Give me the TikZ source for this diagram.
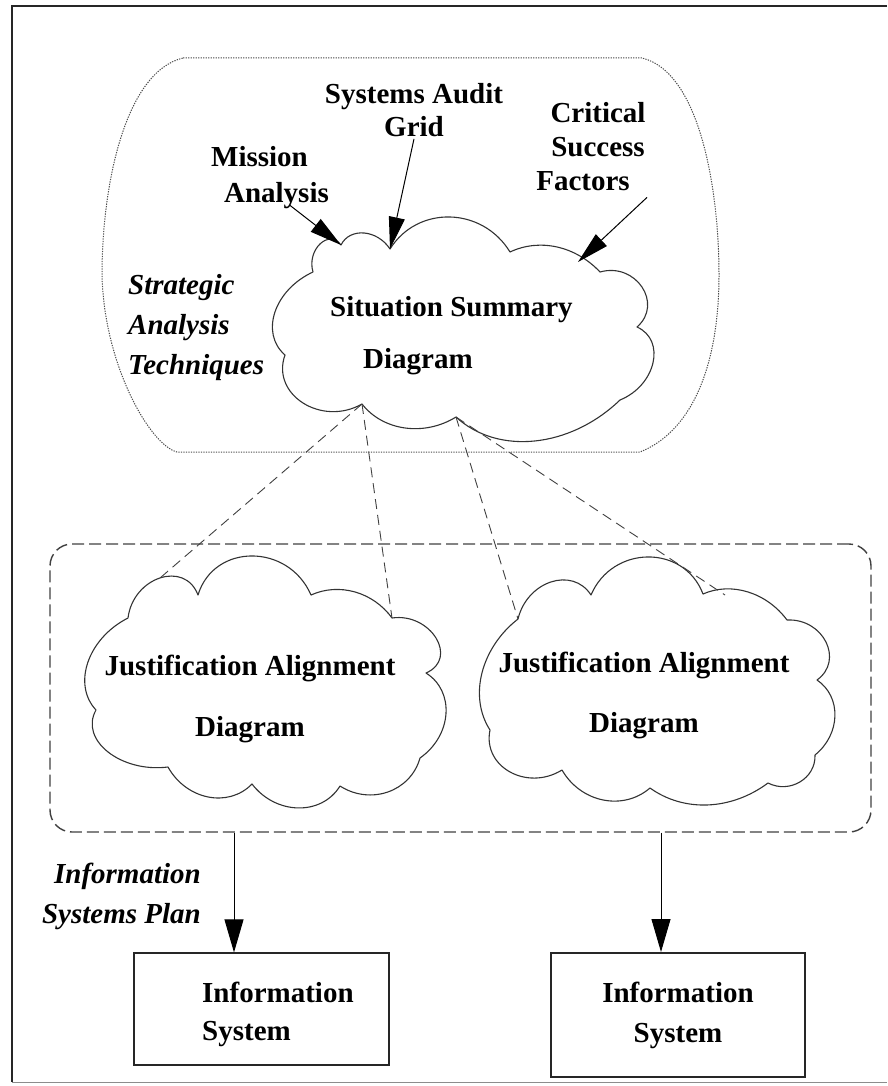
\documentclass[tikz,border=0pt]{standalone}
\usepackage{fontspec}
\setmainfont{Liberation Serif}
\usetikzlibrary{arrows.meta,calc}
\def\cloudbump#1#2#3#4{.. controls ($(#2)!#1!(#4)+1.3333*(#3)-0.6667*(#2)-0.6667*(#4)$) and ($(#4)!#1!(#2)+1.3333*(#3)-0.6667*(#2)-0.6667*(#4)$) .. (#4)}
\tikzset{
  txt/.style={font=\bfseries\fontsize{29}{34}\selectfont, inner sep=2pt, align=center, text=black},
  itx/.style={font=\bfseries\itshape\fontsize{29}{34}\selectfont, inner sep=2pt, text=black},
  cloudline/.style={draw=black!80, line width=1.1pt, line join=round},
  arr/.style={draw=black, line width=1pt, -{Triangle[length=32pt,width=16pt]}},
  arrb/.style={draw=black, line width=1pt, -{Triangle[length=33pt,width=19pt]}},
  conn/.style={draw=black!75, line width=0.9pt, dash pattern=on 10pt off 6pt},
  planbox/.style={draw=black!75, line width=1.4pt, dash pattern=on 12pt off 5pt, rounded corners=22pt},
  satregion/.style={draw=black!70, line width=1pt, dash pattern=on 1.3pt off 1.2pt},
  isbox/.style={draw=black!85, line width=1.2pt},
  framelines/.style={draw=black!85, line width=2pt}
}
\begin{document}
\begin{tikzpicture}[x=1pt,y=-1pt]
\useasboundingbox (0,0) rectangle (887,1086);
% outer frame
\draw[framelines] (887,6.5) -- (12,6.5) -- (12,1082);
\draw[draw=black!45, line width=1pt] (12,1082) -- (887,1082);

% strategic analysis region (dotted)
\draw[satregion] (183,58) -- (642,58) .. controls (700,72) and (719,190) .. (719,275)
  .. controls (719,360) and (695,430) .. (640,452) -- (177,452)
  .. controls (150,445) and (104,365) .. (102,275)
  .. controls (102,185) and (125,72) .. (183,58) -- cycle;

% situation summary cloud
\coordinate (s1) at (341,245);
\coordinate (s2) at (390,249);
\coordinate (s3) at (510,252);
\coordinate (s4) at (600,272);
\coordinate (s5) at (637,327);
\coordinate (s6) at (620,400);
\coordinate (s7) at (456,417);
\coordinate (s8) at (362,404);
\coordinate (s9) at (285,355);
\coordinate (s10) at (313,272);
\coordinate (csfend) at (578,262);
\draw[cloudline] (s1) \cloudbump{0.22}{s1}{364,233}{s2} \cloudbump{0.23}{s2}{450,217}{s3}
  \cloudbump{0.30}{s3}{557,247}{s4} \cloudbump{0.12}{s4}{642,287}{s5}
  \cloudbump{0.19}{s5}{653,363}{s6} \cloudbump{0.28}{s6}{535,441}{s7}
  \cloudbump{0.28}{s7}{405,428}{s8} \cloudbump{0.17}{s8}{303,403}{s9}
  \cloudbump{0.24}{s9}{275,312}{s10} \cloudbump{0.10}{s10}{320,244}{s1} -- cycle;

% left justification alignment cloud
\coordinate (j1) at (128,618);
\coordinate (jtop) at (160,578);
\coordinate (j2) at (198,595);
\coordinate (j3) at (311,595);
\coordinate (j4) at (392,618);
\coordinate (j5) at (426,673);
\coordinate (j6) at (420,758);
\coordinate (j7) at (340,786);
\coordinate (j8) at (252,784);
\coordinate (j9) at (168,767);
\coordinate (j10) at (96,710);
\draw[cloudline] (j1) \cloudbump{0.13}{j1}{jtop}{j2} \cloudbump{0.17}{j2}{252,556}{j3}
  \cloudbump{0.29}{j3}{355,592}{j4} \cloudbump{0.08}{j4}{436,638}{j5}
  \cloudbump{0.24}{j5}{446,714}{j6} \cloudbump{0.25}{j6}{388,792}{j7}
  \cloudbump{0.24}{j7}{298,808}{j8} \cloudbump{0.25}{j8}{208,797}{j9}
  \cloudbump{0.21}{j9}{108,752}{j10} \cloudbump{0.25}{j10}{88,662}{j1} -- cycle;

% right justification alignment cloud
\coordinate (k1) at (518,619);
\coordinate (k2) at (591,595);
\coordinate (k3) at (703,594);
\coordinate (k4) at (787,620);
\coordinate (k5) at (817,680);
\coordinate (k6) at (815,755);
\coordinate (k7) at (768,783);
\coordinate (k8) at (650,788);
\coordinate (k9) at (562,770);
\coordinate (k10) at (490,730);
\coordinate (jrtop) at (725,595);
\draw[cloudline] (k1) \cloudbump{0.19}{k1}{551,582}{k2} \cloudbump{0.18}{k2}{648,557}{k3}
  \cloudbump{0.29}{k3}{748,592}{k4} \cloudbump{0.15}{k4}{826,642}{k5}
  \cloudbump{0.25}{k5}{835,716}{k6} \cloudbump{0.22}{k6}{800,782}{k7}
  \cloudbump{0.30}{k7}{708,805}{k8} \cloudbump{0.26}{k8}{603,800}{k9}
  \cloudbump{0.19}{k9}{510,772}{k10} \cloudbump{0.28}{k10}{482,673}{k1} -- cycle;

% texts
\node[txt] (sag) at (414,110) {Systems Audit\\[-1pt]Grid};
\node[txt] (ma) at (268,178) {Mission\hspace*{17pt}\\[2pt]\hspace*{17pt}Analysis};
\node[txt] (csf) at (598,147) {Critical\\Success\\Factors\hspace*{30pt}};
\node[itx, align=left, anchor=west] (sat) at (126,328) {Strategic\\[6pt]Analysis\\[6pt]Techniques};
\node[txt, align=left, anchor=west] (ssd) at (328,336) {Situation Summary\\[18pt]\hspace*{33pt}Diagram};
\node[txt] (ja1) at (250,699) {Justification Alignment\\[27pt]Diagram};
\node[txt] (ja2) at (644,695) {Justification Alignment\\[26pt]Diagram};

% plan box
\node[planbox, minimum width=821pt, minimum height=288pt] (plan) at (460.5,688) {};
\node[itx, align=right, anchor=east] (isp) at (203,896) {Information\\[6pt]Systems Plan};

% information systems
\node[isbox, minimum width=255pt, minimum height=112pt] (is1) at (261.5,1009) {};
\node[txt, align=left, anchor=west] (is1t) at (200,1014) {Information\\[4pt]System};
\node[isbox, line width=2pt, minimum width=254pt, minimum height=124pt, txt] (is2) at (678,1015) {Information\\[6pt]System};

% arrows into situation summary
\draw[arr] ([xshift=22pt,yshift=6pt]ma.south) -- (s1);
\draw[arr] (sag.south) -- (s2);
\draw[arr] ([xshift=49pt,yshift=-4pt]csf.south) -- (csfend);

% dashed decomposition lines
\draw[conn] (s8) -- (jtop);
\draw[conn] (s8) -- (j4);
\draw[conn] (s7) -- (k1);
\draw[conn] (s7) -- (jrtop);

% arrows to information systems
\coordinate (ax1) at (234,0);
\coordinate (ax2) at (661,0);
\draw[arrb] (plan.south -| ax1) -- (is1.north -| ax1);
\draw[arrb] (plan.south -| ax2) -- (is2.north -| ax2);
\end{tikzpicture}
\end{document}
